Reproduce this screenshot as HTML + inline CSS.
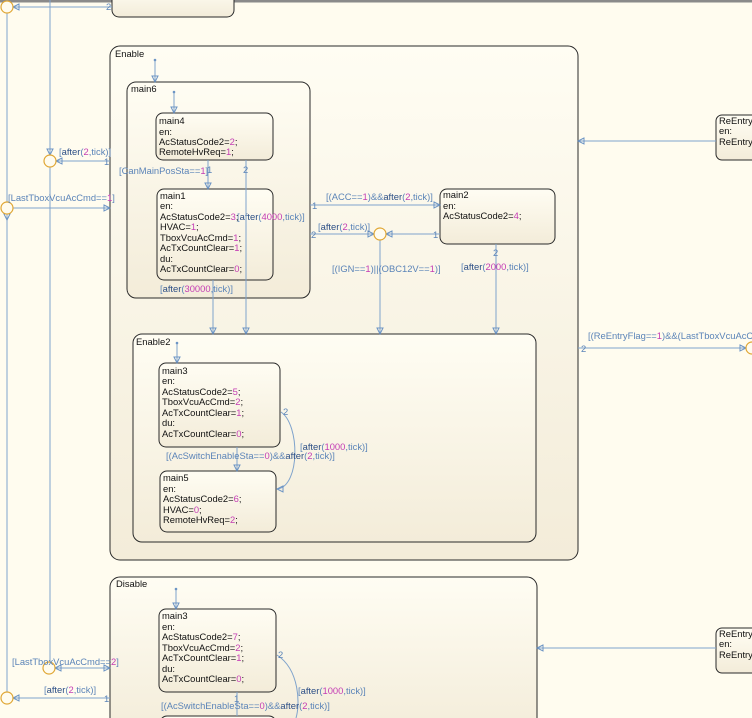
<!DOCTYPE html>
<html><head><meta charset="utf-8"><style>
html,body{margin:0;padding:0;background:#fffcef;}
svg{display:block;font-family:"Liberation Sans",sans-serif;}
.st{stroke:#2a2a2a;stroke-width:1;fill:url(#g);}
.ln{stroke:#7fa3cc;stroke-width:1;fill:none;}
.t{font-size:9.4px;fill:#111;}
.l{font-size:9.4px;fill:#5b84b8;}
.k{fill:#2d4f86;}
.m{fill:#c43cb4;}
.j{fill:#fffcef;stroke:#e0a735;stroke-width:1.2;}
.a{fill:none;stroke:#6c94c4;stroke-width:1;}
</style></head><body>
<svg width="752" height="718" viewBox="0 0 752 718" xmlns="http://www.w3.org/2000/svg">
<defs>
<linearGradient id="g" x1="0" y1="0" x2="0" y2="1">
<stop offset="0" stop-color="#fffdf3"/><stop offset="1" stop-color="#f3ecd9"/>
</linearGradient>
</defs>
<rect x="0" y="0" width="752" height="718" fill="#fffcef"/>
<rect x="0" y="0" width="752" height="2.5" fill="#8a8a8a"/>

<rect class="st" x="112" y="-12" width="122" height="29" rx="7"/>

<rect class="st" x="110" y="46" width="468" height="514" rx="10"/>
<text class="t" x="115" y="57">Enable</text>
<rect class="st" x="127" y="82" width="183" height="216" rx="9"/>
<text class="t" x="131" y="92">main6</text>
<rect class="st" x="156" y="113" width="117" height="47" rx="7"/>
<text class="t" x="159" y="124">main4</text>
<text class="t" x="159" y="135">en:</text>
<text class="t" x="159" y="145">AcStatusCode2=<tspan class="m">2</tspan>;</text>
<text class="t" x="159" y="155">RemoteHvReq=<tspan class="m">1</tspan>;</text>

<rect class="st" x="157" y="189" width="116" height="91" rx="7"/>
<text class="t" x="160" y="199">main1</text>
<text class="t" x="160" y="209">en:</text>
<text class="t" x="160" y="220">AcStatusCode2=<tspan class="m">3</tspan>;</text>
<text class="t" x="160" y="230">HVAC=<tspan class="m">1</tspan>;</text>
<text class="t" x="160" y="241">TboxVcuAcCmd=<tspan class="m">1</tspan>;</text>
<text class="t" x="160" y="251">AcTxCountClear=<tspan class="m">1</tspan>;</text>
<text class="t" x="160" y="262">du:</text>
<text class="t" x="160" y="272">AcTxCountClear=<tspan class="m">0</tspan>;</text>
<text class="l" x="237" y="220">[<tspan class="k">after</tspan>(<tspan class="m">4000</tspan>,tick)]</text>

<rect class="st" x="440" y="189" width="115" height="55" rx="7"/>
<text class="t" x="443" y="198">main2</text>
<text class="t" x="443" y="209">en:</text>
<text class="t" x="443" y="219">AcStatusCode2=<tspan class="m">4</tspan>;</text>

<rect class="st" x="133" y="334" width="403" height="208" rx="9"/>
<text class="t" x="136" y="345">Enable2</text>
<rect class="st" x="159" y="363" width="121" height="84" rx="7"/>
<text class="t" x="162" y="374">main3</text>
<text class="t" x="162" y="384">en:</text>
<text class="t" x="162" y="395">AcStatusCode2=<tspan class="m">5</tspan>;</text>
<text class="t" x="162" y="405">TboxVcuAcCmd=<tspan class="m">2</tspan>;</text>
<text class="t" x="162" y="416">AcTxCountClear=<tspan class="m">1</tspan>;</text>
<text class="t" x="162" y="426">du:</text>
<text class="t" x="162" y="437">AcTxCountClear=<tspan class="m">0</tspan>;</text>
<rect class="st" x="160" y="471" width="116" height="61" rx="7"/>
<text class="t" x="163" y="481">main5</text>
<text class="t" x="163" y="492">en:</text>
<text class="t" x="163" y="502">AcStatusCode2=<tspan class="m">6</tspan>;</text>
<text class="t" x="163" y="513">HVAC=<tspan class="m">0</tspan>;</text>
<text class="t" x="163" y="523">RemoteHvReq=<tspan class="m">2</tspan>;</text>

<rect class="st" x="110" y="577" width="427" height="160" rx="10"/>
<text class="t" x="116" y="587">Disable</text>
<rect class="st" x="159" y="609" width="117" height="83" rx="7"/>
<text class="t" x="162" y="619">main3</text>
<text class="t" x="162" y="630">en:</text>
<text class="t" x="162" y="640">AcStatusCode2=<tspan class="m">7</tspan>;</text>
<text class="t" x="162" y="651">TboxVcuAcCmd=<tspan class="m">2</tspan>;</text>
<text class="t" x="162" y="661">AcTxCountClear=<tspan class="m">1</tspan>;</text>
<text class="t" x="162" y="672">du:</text>
<text class="t" x="162" y="682">AcTxCountClear=<tspan class="m">0</tspan>;</text>
<rect class="st" x="160" y="716" width="116" height="20" rx="7"/>

<rect class="st" x="716" y="115" width="50" height="45" rx="6"/>
<text class="t" x="719" y="124">ReEntry</text>
<text class="t" x="719" y="134">en:</text>
<text class="t" x="719" y="145">ReEntry</text>
<rect class="st" x="716" y="628" width="50" height="45" rx="6"/>
<text class="t" x="719" y="637">ReEntry</text>
<text class="t" x="719" y="647">en:</text>
<text class="t" x="719" y="658">ReEntry</text>

<g class="ln">
<line x1="7" y1="0" x2="7" y2="692"/>
<line x1="50" y1="0" x2="50" y2="662"/>
<line x1="13" y1="7" x2="112" y2="7"/>
<line x1="56" y1="161" x2="110" y2="161"/>
<line x1="13" y1="208" x2="110" y2="208"/>
<line x1="55" y1="668" x2="110" y2="668"/>
<line x1="13" y1="698" x2="110" y2="698"/>
<line x1="155" y1="60" x2="155" y2="82"/>
<line x1="174" y1="92" x2="174" y2="113"/>
<line x1="208" y1="160" x2="208" y2="189"/>
<line x1="246" y1="160" x2="246" y2="334"/>
<line x1="213" y1="280" x2="213" y2="334"/>
<line x1="310" y1="205" x2="440" y2="205"/>
<line x1="310" y1="234" x2="374" y2="234"/>
<line x1="386" y1="234" x2="440" y2="234"/>
<line x1="380" y1="240" x2="380" y2="334"/>
<line x1="496" y1="244" x2="496" y2="334"/>
<line x1="177" y1="343" x2="177" y2="363"/>
<line x1="237" y1="447" x2="237" y2="471"/>
<line x1="176" y1="589" x2="176" y2="609"/>
<line x1="237" y1="692" x2="237" y2="716"/>
<line x1="578" y1="141" x2="716" y2="141"/>
<line x1="578" y1="348" x2="746" y2="348"/>
<line x1="537" y1="648" x2="716" y2="648"/>
<path d="M281 412 C300 425 300 485 278 489"/>
<path d="M277 655 C300 670 300 705 296 718"/>
</g>
<g fill="#6c94c4">
<circle cx="155" cy="60" r="1.3"/><circle cx="174" cy="92" r="1.3"/><circle cx="177" cy="343" r="1.3"/><circle cx="176" cy="589" r="1.3"/>
</g>
<g class="a">
<path d="M152 76 L155 82 L158 76Z"/><path d="M171 107 L174 113 L177 107Z"/>
<path d="M205 183 L208 189 L211 183Z"/><path d="M243 328 L246 334 L249 328Z"/>
<path d="M210 328 L213 334 L216 328Z"/><path d="M377 328 L380 334 L383 328Z"/>
<path d="M493 328 L496 334 L499 328Z"/><path d="M174 357 L177 363 L180 357Z"/>
<path d="M234 465 L237 471 L240 465Z"/><path d="M173 603 L176 609 L179 603Z"/>
<path d="M434 202 L440 205 L434 208Z"/><path d="M368 231 L374 234 L368 237Z"/>
<path d="M392 231 L386 234 L392 237Z"/><path d="M104 205 L110 208 L104 211Z"/>
<path d="M104 665 L110 668 L104 671Z"/><path d="M62 158 L56 161 L62 164Z"/>
<path d="M19 4 L13 7 L19 10Z"/><path d="M19 695 L13 698 L19 701Z"/>
<path d="M61 665 L55 668 L61 671Z"/>
<path d="M584 138 L578 141 L584 144Z"/><path d="M543 645 L537 648 L543 651Z"/>
<path d="M740 345 L746 348 L740 351Z"/><path d="M283 486 L277 489 L283 492Z"/>
<path d="M4 214 L7 220 L10 214Z"/><path d="M47 149 L50 155 L53 149Z"/>
</g>
<circle class="j" cx="7" cy="7" r="6"/>
<circle class="j" cx="50" cy="161" r="6"/>
<circle class="j" cx="7" cy="208" r="6"/>
<circle class="j" cx="380" cy="234" r="6"/>
<circle class="j" cx="752" cy="348" r="6"/>
<circle class="j" cx="49" cy="668" r="6"/>
<circle class="j" cx="7" cy="698" r="6"/>

<text class="l" x="106" y="10">2</text>
<text class="l" x="59" y="155">[<tspan class="k">after</tspan>(<tspan class="m">2</tspan>,tick)]</text>
<text class="l" x="104" y="165">1</text>
<text class="l" x="8" y="201">[LastTboxVcuAcCmd==<tspan class="m">1</tspan>]</text>
<text class="l" x="119" y="174">[CanMainPosSta==<tspan class="m">1</tspan>]</text>
<text class="l" x="207" y="173">1</text>
<text class="l" x="243" y="173">2</text>
<text class="l" x="160" y="292">[<tspan class="k">after</tspan>(<tspan class="m">30000</tspan>,tick)]</text>
<text class="l" x="312" y="209">1</text>
<text class="l" x="326" y="200">[(ACC==<tspan class="m">1</tspan>)&amp;&amp;<tspan class="k">after</tspan>(<tspan class="m">2</tspan>,tick)]</text>
<text class="l" x="318" y="230">[<tspan class="k">after</tspan>(<tspan class="m">2</tspan>,tick)]</text>
<text class="l" x="311" y="238">2</text>
<text class="l" x="433" y="238">1</text>
<text class="l" x="332" y="272">[(IGN==<tspan class="m">1</tspan>)||(OBC12V==<tspan class="m">1</tspan>)]</text>
<text class="l" x="493" y="256">2</text>
<text class="l" x="461" y="270">[<tspan class="k">after</tspan>(<tspan class="m">2000</tspan>,tick)]</text>
<text class="l" x="581" y="352">2</text>
<text class="l" x="588" y="339">[(ReEntryFlag==<tspan class="m">1</tspan>)&amp;&amp;(LastTboxVcuAcCmd</text>
<text class="l" x="283" y="415">2</text>
<text class="l" x="300" y="450">[<tspan class="k">after</tspan>(<tspan class="m">1000</tspan>,tick)]</text>
<text class="l" x="166" y="459">[(AcSwitchEnableSta==<tspan class="m">0</tspan>)&amp;&amp;<tspan class="k">after</tspan>(<tspan class="m">2</tspan>,tick)]</text>
<text class="l" x="12" y="665">[LastTboxVcuAcCmd==<tspan class="m">2</tspan>]</text>
<text class="l" x="44" y="693">[<tspan class="k">after</tspan>(<tspan class="m">2</tspan>,tick)]</text>
<text class="l" x="104" y="702">1</text>
<text class="l" x="278" y="658">2</text>
<text class="l" x="298" y="694">[<tspan class="k">after</tspan>(<tspan class="m">1000</tspan>,tick)]</text>
<text class="l" x="234" y="702">1</text>
<text class="l" x="161" y="709">[(AcSwitchEnableSta==<tspan class="m">0</tspan>)&amp;&amp;<tspan class="k">after</tspan>(<tspan class="m">2</tspan>,tick)]</text>
</svg>
</body></html>
